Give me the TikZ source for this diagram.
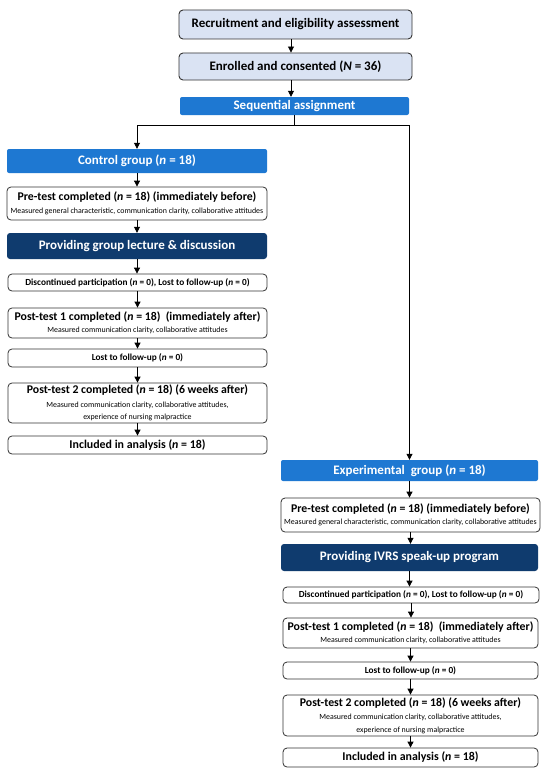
\documentclass[tikz,border=0pt]{standalone}
\usepackage{fontspec}
\setmainfont{Carlito}
\usetikzlibrary{arrows.meta}
\definecolor{lb}{HTML}{DAE3F3}
\definecolor{mb}{HTML}{1E78D2}
\definecolor{nb}{HTML}{0F3B6E}
\definecolor{bd}{HTML}{333333}
\tikzset{
 box/.style={inner sep=0pt, align=center, font=\bfseries\fontsize{13}{15}\selectfont},
 lightbox/.style={box, fill=lb, draw=bd, line width=0.9pt, rounded corners=4pt},
 bluebox/.style={box, fill=mb, text=white, rounded corners=2pt},
 navybox/.style={box, fill=nb, text=white, rounded corners=3pt},
 whitebox/.style={box, fill=white, draw=bd, line width=0.8pt, rounded corners=4pt},
 ttl/.style={font=\bfseries\fontsize{11.8}{12.5}\selectfont},
 inc/.style={font=\bfseries\fontsize{11.9}{14}\selectfont},
 small/.style={font=\bfseries\fontsize{9.3}{11}\selectfont},
 arr/.style={-{Triangle[length=6pt,width=6pt]}, line width=0.8pt},
 ln/.style={line width=0.8pt}
}
\newcommand\mkbox[7]{\node[#2, minimum width={#5-#3}, minimum height={#6-#4}] (#1) at ({(#3+#5)/2},{(#4+#6)/2}) {#7};}
\newcommand\subt{\mdseries\fontsize{7.9}{9}\selectfont}
\begin{document}
\begin{tikzpicture}[x=1pt,y=-1pt]
\useasboundingbox (0,0) rectangle (550,776);
\fill[white] (0,0) rectangle (550,776);
% top
\mkbox{r1}{lightbox}{179}{10}{412}{39}{Recruitment and eligibility assessment}
\mkbox{r2}{lightbox}{179}{53}{412}{80}{Enrolled and consented (\textit{N} = 36)}
\mkbox{seq}{bluebox}{180}{97}{409}{115}{Sequential assignment}
% control
\mkbox{cg}{bluebox}{7}{149}{267}{173}{Control group (\textit{n} = 18)}
\mkbox{cpre}{whitebox,ttl}{7}{187}{267}{220}{Pre-test completed (\textit{n} = 18) (immediately before)\\\subt Measured general characteristic, communication clarity, collaborative attitudes}
\mkbox{cprov}{navybox}{7}{233}{267}{259}{Providing group lecture \& discussion}
\mkbox{cdis}{whitebox,small}{8}{274}{267}{291}{Discontinued participation (\textit{n} = 0), Lost to follow-up (\textit{n} = 0)}
\mkbox{cpt1}{whitebox,ttl}{8}{308}{267}{338}{Post-test 1 completed (\textit{n} = 18) \ (immediately after)\\\subt Measured communication clarity, collaborative attitudes}
\mkbox{clost}{whitebox,small}{8}{349}{267}{367}{Lost to follow-up (\textit{n} = 0)}
\mkbox{cpt2}{whitebox,ttl}{8}{383}{267}{423}{Post-test 2 completed (\textit{n} = 18) (6 weeks after)\\[1pt]\subt Measured communication clarity, collaborative attitudes,\\\subt experience of nursing malpractice}
\mkbox{cinc}{whitebox,inc}{8}{436}{267}{454}{Included in analysis (\textit{n} = 18)}
% experimental
\mkbox{eg}{bluebox}{281}{460}{538}{481}{Experimental \ group (\textit{n} = 18)}
\mkbox{epre}{whitebox,ttl}{281}{498}{540}{532}{Pre-test completed (\textit{n} = 18) (immediately before)\\\subt Measured general characteristic, communication clarity, collaborative attitudes}
\mkbox{eprov}{navybox}{281}{544}{538}{571}{Providing IVRS speak-up program}
\mkbox{edis}{whitebox,small}{283}{587}{539}{603}{Discontinued participation (\textit{n} = 0), Lost to follow-up (\textit{n} = 0)}
\mkbox{ept1}{whitebox,ttl}{283}{618}{538}{648}{Post-test 1 completed (\textit{n} = 18) \ (immediately after)\\\subt Measured communication clarity, collaborative attitudes}
\mkbox{elost}{whitebox,small}{283}{662}{538}{679}{Lost to follow-up (\textit{n} = 0)}
\mkbox{ept2}{whitebox,ttl}{283}{695}{538}{736}{Post-test 2 completed (\textit{n} = 18) (6 weeks after)\\[1pt]\subt Measured communication clarity, collaborative attitudes,\\\subt experience of nursing malpractice}
\mkbox{einc}{whitebox,inc}{283}{748}{538}{767}{Included in analysis (\textit{n} = 18)}
% connectors
\coordinate (ax) at (291,0);
\draw[arr] (r1.south -| ax) -- (r2.north -| ax);
\draw[arr] (r2.south -| ax) -- (seq.north -| ax);
\coordinate (j) at (294,125);
\draw[ln] (seq.south -| j) -- (j);
\draw[arr] (j) -| (cg.north);
\draw[arr] (j) -| (eg.north);
\foreach \a/\b in {cg/cpre,cpre/cprov,cprov/cdis,cdis/cpt1,cpt1/clost,clost/cpt2,cpt2/cinc,
                   eg/epre,epre/eprov,eprov/edis,edis/ept1,ept1/elost,elost/ept2,ept2/einc}
  \draw[arr] (\a.south) -- (\a.south |- \b.north);
\end{tikzpicture}
\end{document}
